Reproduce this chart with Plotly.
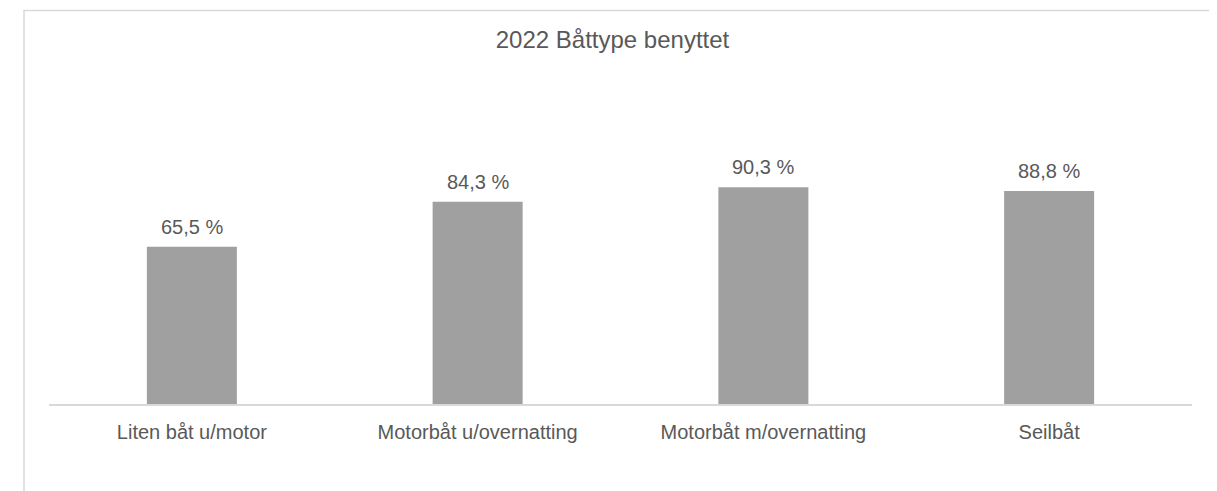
import plotly.graph_objects as go

# data
categories = ["Liten båt u/motor", "Motorbåt u/overnatting", "Motorbåt m/overnatting", "Seilbåt"]
values = [65.5, 84.3, 90.3, 88.8]
labels = [f"{v:.1f}".replace(".", ",") + " %" for v in values]

# page has an 8px body margin, so the figure is sized/offset for it
W, H = 1209, 483
L, R, T, B = 41, 25, 155.6, 86.5
pw, ph = W - L - R, H - T - B

fig = go.Figure(go.Bar(
    x=categories, y=values,
    marker=dict(color="#A0A0A0", line=dict(width=0)),
))

# data labels above the bars
for c, v, t in zip(categories, values, labels):
    fig.add_annotation(x=c, y=v, text=t, showarrow=False, yanchor="bottom", yshift=7,
                       font=dict(size=20, color="#595959"))

# outer chart border (Excel chart area)
fig.add_shape(type="rect", xref="paper", yref="paper",
              x0=(16 - L) / pw, x1=(1208 - L) / pw,
              y0=(H - 520 - B) / ph, y1=(H - 1.5 - B) / ph,
              line=dict(color="#D9D9D9", width=1.5), fillcolor="rgba(0,0,0,0)", layer="below")

fig.update_layout(
    width=W, height=H,
    margin=dict(l=L, r=R, t=T, b=B),
    paper_bgcolor="white", plot_bgcolor="white",
    font=dict(family="Arial, Liberation Sans, sans-serif", color="#595959"),
    title=dict(text="2022 Båttype benyttet", x=0.5, xanchor="center",
               y=1 - 32 / H, yanchor="middle", font=dict(size=24, color="#595959")),
    bargap=0.685,
    showlegend=False,
)
fig.update_xaxes(showline=True, linecolor="#D9D9D9", linewidth=1.5, ticks="",
                 tickfont=dict(size=20, color="#595959"), ticklabelstandoff=9)
fig.update_yaxes(range=[0, 100], visible=False, showgrid=False)

fig.write_html("out.html")
